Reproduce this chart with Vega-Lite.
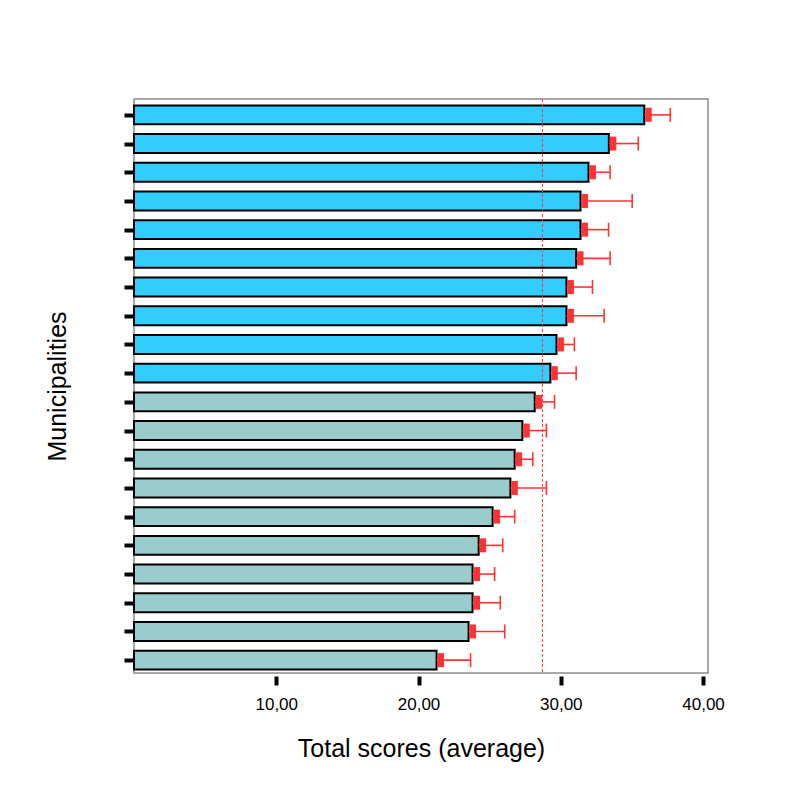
{
  "$schema": "https://vega.github.io/schema/vega-lite/v6.json",
  "width": 574,
  "height": 574,
  "autosize": {"type": "none"},
  "padding": {"left": 134, "top": 99, "right": 85, "bottom": 127},
  "background": "white",
  "config": {
    "locale": {"number": {"decimal": ",", "thousands": ".", "grouping": [3], "currency": ["", " €"]}},
    "view": {"stroke": "#8a8a8a", "strokeWidth": 1.5},
    "font": "Liberation Sans"
  },
  "data": {
    "values": [
      {"id": "M01", "mean": 35.87, "upper": 37.70, "group": "above"},
      {"id": "M02", "mean": 33.38, "upper": 35.45, "group": "above"},
      {"id": "M03", "mean": 31.95, "upper": 33.47, "group": "above"},
      {"id": "M04", "mean": 31.39, "upper": 35.02, "group": "above"},
      {"id": "M05", "mean": 31.39, "upper": 33.36, "group": "above"},
      {"id": "M06", "mean": 31.08, "upper": 33.47, "group": "above"},
      {"id": "M07", "mean": 30.40, "upper": 32.23, "group": "above"},
      {"id": "M08", "mean": 30.40, "upper": 33.05, "group": "above"},
      {"id": "M09", "mean": 29.70, "upper": 30.96, "group": "above"},
      {"id": "M10", "mean": 29.27, "upper": 31.08, "group": "above"},
      {"id": "M11", "mean": 28.17, "upper": 29.56, "group": "below"},
      {"id": "M12", "mean": 27.30, "upper": 28.99, "group": "below"},
      {"id": "M13", "mean": 26.76, "upper": 28.03, "group": "below"},
      {"id": "M14", "mean": 26.46, "upper": 28.99, "group": "below"},
      {"id": "M15", "mean": 25.21, "upper": 26.76, "group": "below"},
      {"id": "M16", "mean": 24.23, "upper": 25.92, "group": "below"},
      {"id": "M17", "mean": 23.80, "upper": 25.35, "group": "below"},
      {"id": "M18", "mean": 23.80, "upper": 25.75, "group": "below"},
      {"id": "M19", "mean": 23.52, "upper": 26.06, "group": "below"},
      {"id": "M20", "mean": 21.27, "upper": 23.66, "group": "below"}
    ]
  },
  "layer": [
    {
      "mark": {"type": "bar", "stroke": "black", "strokeWidth": 2, "yOffset": 1.5},
      "encoding": {
        "y": {
          "field": "id", "type": "nominal", "sort": null,
          "scale": {"paddingInner": 0.34, "paddingOuter": 0.17},
          "axis": {
            "labels": false, "domain": false, "ticks": true, "tickColor": "black",
            "tickWidth": 4, "tickSize": 9, "offset": 1, "tickOffset": 1.5,
            "title": "Municipalities", "titleFontSize": 25, "titleFontWeight": "normal",
            "titleColor": "black", "titleFont": "Liberation Sans", "titlePadding": 52
          }
        },
        "x": {
          "field": "mean", "type": "quantitative",
          "scale": {"domain": [0, 40.35], "nice": false, "zero": true},
          "axis": {
            "values": [10, 20, 30, 40], "format": ".2f", "grid": false, "domain": false,
            "tickColor": "black", "tickWidth": 4, "tickSize": 9, "offset": 3,
            "labelFontSize": 17, "labelColor": "black", "labelPadding": 11, "labelFont": "Liberation Sans",
            "title": "Total scores (average)", "titleFontSize": 25, "titleFontWeight": "normal",
            "titleColor": "black", "titleFont": "Liberation Sans", "titlePadding": 24
          }
        },
        "color": {
          "field": "group", "type": "nominal",
          "scale": {"domain": ["above", "below"], "range": ["#33CCFF", "#99CCCC"]},
          "legend": null
        }
      }
    },
    {
      "mark": {"type": "rule", "color": "#FF3333", "strokeWidth": 1.6, "yOffset": 1.5},
      "encoding": {
        "y": {"field": "id", "type": "nominal", "sort": null},
        "x": {"field": "mean", "type": "quantitative"},
        "x2": {"field": "upper"}
      }
    },
    {
      "mark": {"type": "tick", "color": "#FF3333", "thickness": 1.6, "size": 14, "yOffset": 1.5, "opacity": 1},
      "encoding": {
        "y": {"field": "id", "type": "nominal", "sort": null},
        "x": {"field": "upper", "type": "quantitative"}
      }
    },
    {
      "mark": {"type": "tick", "color": "#FF3333", "thickness": 6.5, "size": 14, "xOffset": 4.2, "yOffset": 1.5, "opacity": 1},
      "encoding": {
        "y": {"field": "id", "type": "nominal", "sort": null},
        "x": {"field": "mean", "type": "quantitative"}
      }
    },
    {
      "data": {"values": [{"ref": 28.71}]},
      "mark": {"type": "rule", "color": "#FF3333", "strokeWidth": 1, "strokeDash": [3, 2]},
      "encoding": {
        "x": {"field": "ref", "type": "quantitative"}
      }
    }
  ]
}
